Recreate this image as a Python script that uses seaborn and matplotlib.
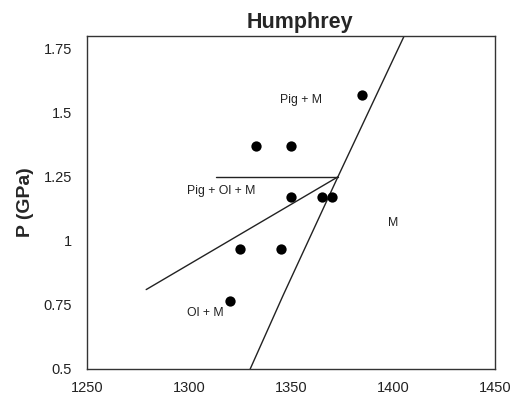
import matplotlib
matplotlib.use("Agg")
import matplotlib.pyplot as plt
import seaborn as sns
import pandas as pd

# Data
temp = [1385, 1333, 1350, 1350, 1365, 1370, 1325, 1345, 1320]
pressure = [1.57, 1.37, 1.37, 1.17, 1.17, 1.17, 0.97, 0.97, 0.765]

steep_x = [1330, 1346, 1373, 1405.5]
steep_y = [0.5, 0.785, 1.25, 1.8]
lower_x = [1279, 1373]
lower_y = [0.81, 1.25]
horiz_x = [1313, 1373]
horiz_y = [1.25, 1.25]

labels = ["Pig + M", "Pig + Ol + M", "M", "Ol + M"]
label_x = [1355, 1316, 1400, 1308]
label_y = [1.55, 1.195, 1.07, 0.72]

x_ticks = [1250, 1300, 1350, 1400, 1450]
y_ticks = [0.5, 0.75, 1.0, 1.25, 1.5, 1.75]
y_ticklabels = ["0.5", "0.75", "1", "1.25", "1.5", "1.75"]

sns.set_theme(style="white")
plt.rcParams['font.family'] = ['Liberation Sans', 'DejaVu Sans']

fig = plt.figure(figsize=(5.15, 4.03), dpi=100)
ax = fig.add_axes([0.169, 0.0844, 0.792, 0.8263])

df = pd.DataFrame({"T": temp, "P": pressure})
sns.scatterplot(data=df, x="T", y="P", ax=ax, color="black", s=55,
                edgecolor="black", linewidth=0, zorder=3)

for xs, ys in [(steep_x, steep_y), (lower_x, lower_y), (horiz_x, horiz_y)]:
    sns.lineplot(x=xs, y=ys, ax=ax, color="#222222", linewidth=1.0,
                 sort=False, estimator=None)

for t, x, y in zip(labels, label_x, label_y):
    ax.text(x, y, t, fontsize=8.8, ha="center", va="center", color="#222222")

ax.set_xlim(1250, 1450)
ax.set_ylim(0.5, 1.8)
ax.set_xticks(x_ticks)
ax.set_xticklabels([str(v) for v in x_ticks])
ax.set_yticks(y_ticks)
ax.set_yticklabels(y_ticklabels)
ax.tick_params(axis="both", length=0, labelsize=10.5, colors="#222222")
ax.tick_params(axis="y", pad=11)
ax.tick_params(axis="x", pad=9)
ax.set_xlabel("")
ax.set_ylabel("P (GPa)", fontsize=14, fontweight="bold", labelpad=7)
for s in ax.spines.values():
    s.set_color("#333333")
    s.set_linewidth(1.0)

fig.text(0.583, 0.945, "Humphrey", fontsize=15.5, fontweight="bold",
         ha="center", va="center")

fig.savefig("out.png", dpi=100)
